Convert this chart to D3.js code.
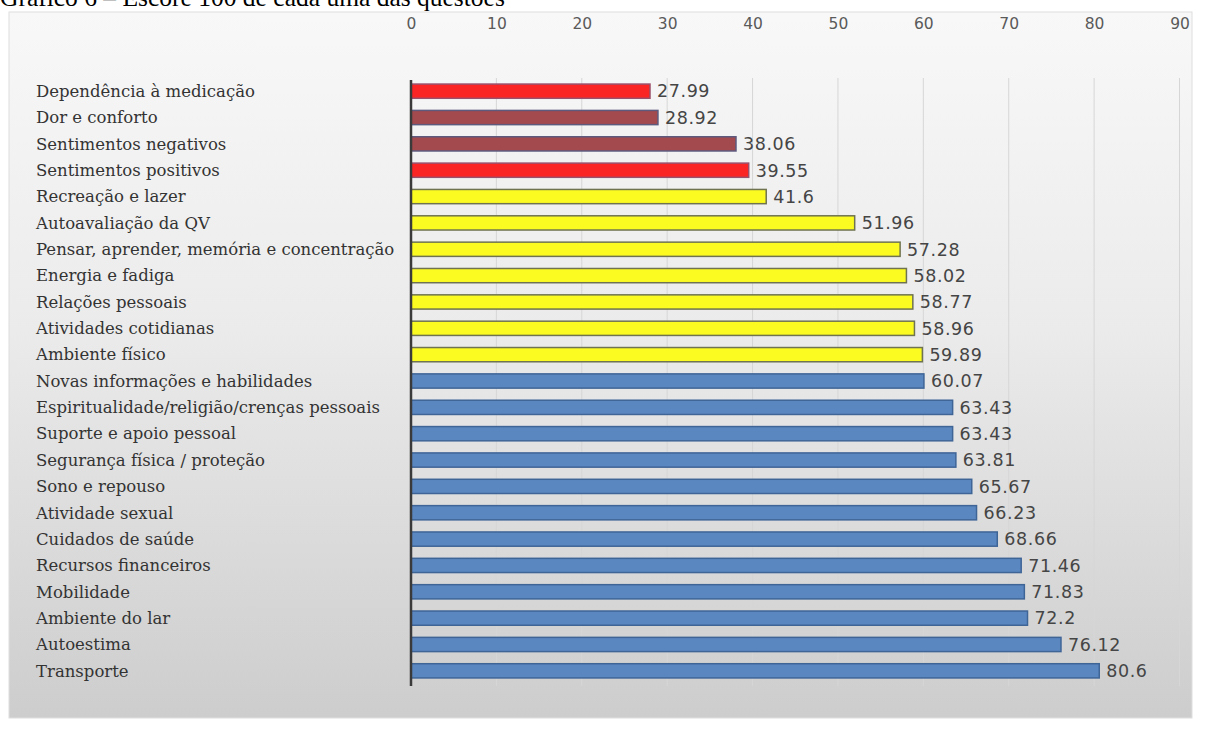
<!DOCTYPE html>
<html>
<head>
<meta charset="utf-8">
<script src="https://cdn.jsdelivr.net/npm/d3@7"></script>
<style>
  html, body { margin: 0; padding: 0; background: #ffffff; }
  svg { display: block; }
</style>
</head>
<body>
<svg id="chart" width="1206" height="733"></svg>
<script>
const titleText = "Gráfico 6 – Escore 100 de cada uma das questões";

const categories = [
  "Dependência à medicação",
  "Dor e conforto",
  "Sentimentos negativos",
  "Sentimentos positivos",
  "Recreação e lazer",
  "Autoavaliação da QV",
  "Pensar, aprender, memória e concentração",
  "Energia e fadiga",
  "Relações pessoais",
  "Atividades cotidianas",
  "Ambiente físico",
  "Novas informações e habilidades",
  "Espiritualidade/religião/crenças pessoais",
  "Suporte e apoio pessoal",
  "Segurança física / proteção",
  "Sono e repouso",
  "Atividade sexual",
  "Cuidados de saúde",
  "Recursos financeiros",
  "Mobilidade",
  "Ambiente do lar",
  "Autoestima",
  "Transporte"
];

const values = [27.99, 28.92, 38.06, 39.55, 41.6, 51.96, 57.28, 58.02, 58.77, 58.96, 59.89,
                60.07, 63.43, 63.43, 63.81, 65.67, 66.23, 68.66, 71.46, 71.83, 72.2, 76.12, 80.6];

const valueLabels = ["27.99", "28.92", "38.06", "39.55", "41.6", "51.96", "57.28", "58.02", "58.77", "58.96", "59.89",
                     "60.07", "63.43", "63.43", "63.81", "65.67", "66.23", "68.66", "71.46", "71.83", "72.2", "76.12", "80.6"];

const groups = ["red", "brown", "brown", "red",
                "yellow", "yellow", "yellow", "yellow", "yellow", "yellow", "yellow",
                "blue", "blue", "blue", "blue", "blue", "blue", "blue", "blue", "blue", "blue", "blue", "blue"];

const tickValues = [0, 10, 20, 30, 40, 50, 60, 70, 80, 90];

const groupNames = ["red", "brown", "yellow", "blue"];
const fillColors = ["#fb2424", "#a34a4e", "#fbfb22", "#5b87c1"];
const strokeColors = ["#9a4f6a", "#5d5a7e", "#6f7350", "#3f6597"];

const data = categories.map((c, i) => ({ cat: c, value: values[i], label: valueLabels[i], group: groups[i] }));

const svg = d3.select("#chart");

// background panel gradient
const defs = svg.append("defs");
const grad = defs.append("linearGradient").attr("id", "bg").attr("x1", 0).attr("y1", 0).attr("x2", 0).attr("y2", 1);
grad.append("stop").attr("offset", "0%").attr("stop-color", "#f8f8f8");
grad.append("stop").attr("offset", "45%").attr("stop-color", "#ebebeb");
grad.append("stop").attr("offset", "100%").attr("stop-color", "#cdcdcd");

svg.append("rect")
  .attr("x", 9).attr("y", 12).attr("width", 1183).attr("height", 706)
  .attr("fill", "url(#bg)")
  .attr("stroke", "#dedede").attr("stroke-width", 1);

// title (partially cut at top, as in the reference)
svg.append("text")
  .attr("x", 0).attr("y", 6)
  .attr("font-family", "'Liberation Serif', 'Times New Roman', serif")
  .attr("font-size", 25.5)
  .attr("fill", "#000")
  .text(titleText);

const x = d3.scaleLinear().domain([0, 90]).range([411, 1179.5]);
const y = d3.scaleBand().domain(categories).range([78, 684]).paddingInner(0.46).paddingOuter(0.23);

const color = d3.scaleOrdinal().domain(groupNames).range(fillColors);
const stroke = d3.scaleOrdinal().domain(groupNames).range(strokeColors);

// gridlines
svg.append("g").selectAll("line")
  .data(tickValues.filter(d => d > 0))
  .join("line")
  .attr("x1", d => x(d)).attr("x2", d => x(d))
  .attr("y1", 78).attr("y2", 686)
  .attr("stroke", "#d6d6d6").attr("stroke-width", 1);

// top axis tick labels
const axis = d3.axisTop(x).tickValues(tickValues).tickSize(0).tickPadding(0);
const gAxis = svg.append("g").attr("transform", "translate(0,29)").call(axis);
gAxis.select(".domain").remove();
gAxis.selectAll("text")
  .attr("font-family", "'DejaVu Sans', sans-serif")
  .attr("font-size", 15.5)
  .attr("fill", "#5a5a5a");

// bars
svg.append("g").selectAll("rect")
  .data(data)
  .join("rect")
  .attr("x", x(0))
  .attr("y", d => y(d.cat))
  .attr("width", d => x(d.value) - x(0))
  .attr("height", y.bandwidth())
  .attr("fill", d => color(d.group))
  .attr("stroke", d => stroke(d.group))
  .attr("stroke-width", 1.5);

// value labels
svg.append("g").selectAll("text")
  .data(data)
  .join("text")
  .attr("x", d => x(d.value) + 7)
  .attr("y", d => y(d.cat) + y.bandwidth() / 2)
  .attr("dy", "0.36em")
  .attr("font-family", "'DejaVu Sans', sans-serif")
  .attr("font-size", 17.5)
  .attr("letter-spacing", 0.6)
  .attr("fill", "#454545")
  .text(d => d.label);

// category labels
svg.append("g").selectAll("text")
  .data(data)
  .join("text")
  .attr("x", 36)
  .attr("y", d => y(d.cat) + y.bandwidth() / 2)
  .attr("dy", "0.35em")
  .attr("font-family", "'DejaVu Serif', serif")
  .attr("font-size", 16.5)
  .attr("fill", "#333")
  .text(d => d.cat);

// vertical axis line
svg.append("line")
  .attr("x1", x(0)).attr("x2", x(0))
  .attr("y1", 80).attr("y2", 686)
  .attr("stroke", "#3a3a3a").attr("stroke-width", 2.5);
</script>
</body>
</html>
